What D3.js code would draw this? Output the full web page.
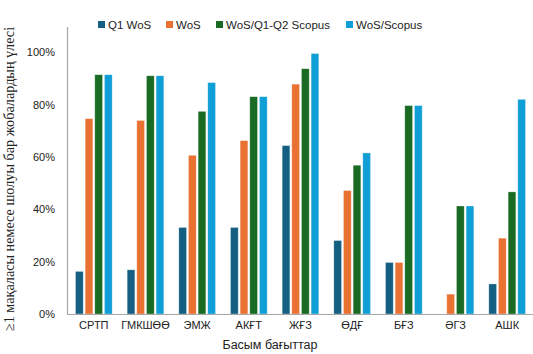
<!DOCTYPE html>
<html><head><meta charset="utf-8">
<script src="https://cdn.jsdelivr.net/npm/d3@7"></script>
<style>body{margin:0;background:#fff}svg{display:block}</style>
</head><body>
<svg id="c" width="533" height="354"></svg>
<script>
const categories = ["СРТП","ГМКШӨӨ","ЭМЖ","АКҒТ","ЖҒЗ","ӨДҒ","БҒЗ","ӘГЗ","АШК"];
const seriesNames = ["Q1 WoS","WoS","WoS/Q1-Q2 Scopus","WoS/Scopus"];
const q1wos =      [16.3,16.9,33.1,33.1,64.4,28.1,19.7,0,11.5];
const wos =        [74.7,74.0,60.7,66.3,87.9,47.2,19.7,7.6,29.0];
const wosQ1Q2 =    [91.5,91.1,77.5,83.1,93.8,56.9,79.7,41.3,46.7];
const wosScopus =  [91.5,91.1,88.5,83.1,99.6,61.6,79.7,41.3,82.1];
const yTicks = [0,20,40,60,80,100];
const colors = ["#156082","#E97132","#196B24","#0F9ED5"];
const yTitle = "≥1 мақаласы немесе шолуы бар жобалардың үлесі";
const xTitle = "Басым бағыттар";

const series = [q1wos,wos,wosQ1Q2,wosScopus];
const svg = d3.select("#c");
const x0 = d3.scaleBand().domain(categories).range([68,533]).paddingInner(0.29).paddingOuter(0.145);
const x1 = d3.scaleBand().domain(d3.range(4)).range([0,x0.bandwidth()]).paddingInner(0.2).paddingOuter(0);
const y = d3.scaleLinear().domain([0,100]).range([314,52.5]);
const font = "'Liberation Sans', Arial, sans-serif";

// bars
const g = svg.append("g");
categories.forEach((c,i)=>{
  series.forEach((s,j)=>{
    if (s[i] <= 0) return;
    g.append("rect")
      .attr("x", x0(c)+x1(j)).attr("width", x1.bandwidth())
      .attr("y", y(s[i])).attr("height", y(0)-y(s[i]))
      .attr("fill", colors[j]).attr("stroke","#ffffff").attr("stroke-opacity",0.5).attr("stroke-width",0.6);
  });
});

// axes lines
svg.append("line").attr("x1",67.5).attr("x2",67.5).attr("y1",27).attr("y2",314.5).attr("stroke","#a6a6a6").attr("stroke-width",1.2);
svg.append("line").attr("x1",67).attr("x2",533).attr("y1",314.5).attr("y2",314.5).attr("stroke","#a6a6a6").attr("stroke-width",1.2);

// y tick labels
svg.append("g").selectAll("text").data(yTicks).join("text")
  .attr("x",55).attr("y",d=>y(d)).attr("dy","0.35em").attr("text-anchor","end")
  .attr("font-family",font).attr("font-size",11).attr("fill","#222")
  .text(d=>d+"%");

// x labels
svg.append("g").selectAll("text").data(categories).join("text")
  .attr("x",d=>x0(d)+x0.bandwidth()/2).attr("y",329).attr("text-anchor","middle")
  .attr("font-family",font).attr("font-size",11).attr("fill","#222")
  .text(d=>d);

// x title
svg.append("text").attr("x",270).attr("y",349).attr("text-anchor","middle")
  .attr("font-family",font).attr("font-size",12.5).attr("fill","#222").text(xTitle);

// y title
svg.append("text").attr("transform","translate(14,179) rotate(-90)").attr("text-anchor","middle")
  .attr("font-family","'Liberation Serif', 'Times New Roman', serif").attr("font-size",14.2).attr("fill","#222").text(yTitle);

// legend
const legX = [98, 166, 216, 346];
seriesNames.forEach((n,j)=>{
  svg.append("rect").attr("x",legX[j]).attr("y",21).attr("width",7).attr("height",7).attr("fill",colors[j]);
  svg.append("text").attr("x",legX[j]+10).attr("y",25).attr("dy","0.35em")
    .attr("font-family",font).attr("font-size",11.5).attr("fill","#222").text(n);
});
</script>
</body></html>
